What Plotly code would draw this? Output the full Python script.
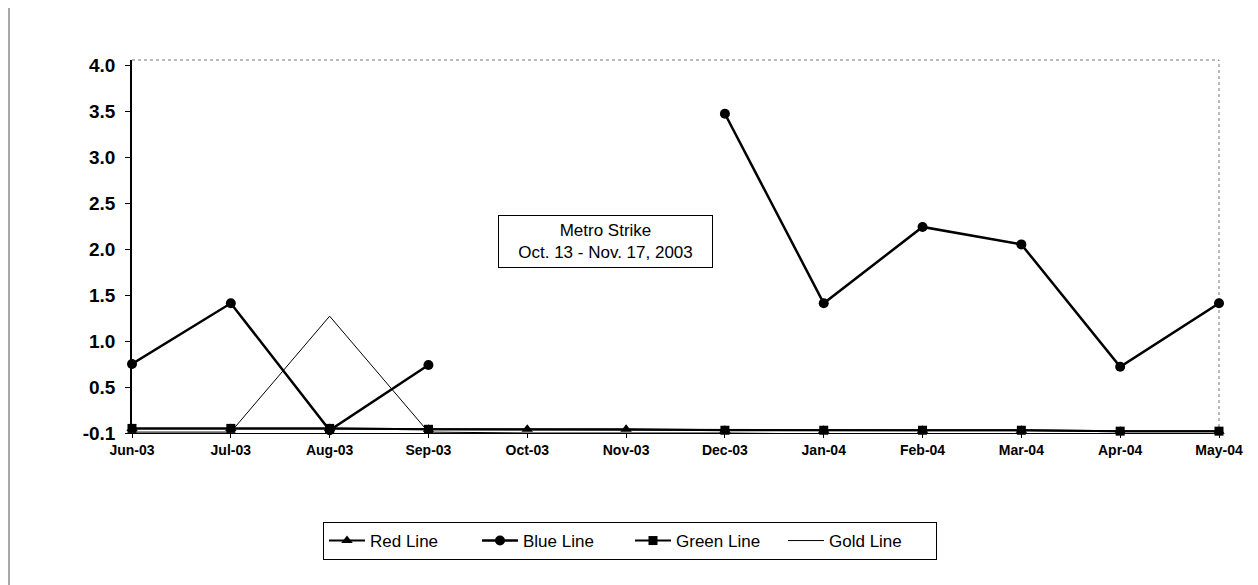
import plotly.graph_objects as go

months = ["Jun-03", "Jul-03", "Aug-03", "Sep-03", "Oct-03", "Nov-03",
          "Dec-03", "Jan-04", "Feb-04", "Mar-04", "Apr-04", "May-04"]
red_line = [0.05, 0.05, 0.05, 0.04, 0.04, 0.04, 0.03, 0.03, 0.03, 0.03, 0.02, 0.02]
blue_line = [0.75, 1.41, 0.03, 0.74, None, None, 3.47, 1.41, 2.24, 2.05, 0.72, 1.41]
green_line = [0.05, 0.05, 0.05, 0.04, None, None, 0.03, 0.03, 0.03, 0.03, 0.02, 0.02]
gold_line = [0.01, 0.01, 1.27, 0.01, 0.0, 0.0, 0.0, -0.01, -0.01, -0.01, -0.02, -0.02]

y_tickvals = [0, 0.5, 1.0, 1.5, 2.0, 2.5, 3.0, 3.5, 4.0]
y_ticktext = ["-0.1", "0.5", "1.0", "1.5", "2.0", "2.5", "3.0", "3.5", "4.0"]

FONT = "Arial, Liberation Sans, Helvetica, sans-serif"

fig = go.Figure()
fig.add_trace(go.Scatter(x=months, y=gold_line, name="Gold Line", mode="lines",
                         line=dict(color="black", width=1), cliponaxis=False,
                         showlegend=False))
fig.add_trace(go.Scatter(x=months, y=red_line, name="Red Line", mode="lines+markers",
                         line=dict(color="black", width=2),
                         marker=dict(symbol="triangle-up", size=10, color="black"),
                         cliponaxis=False))
fig.add_trace(go.Scatter(x=months, y=blue_line, name="Blue Line", mode="lines+markers",
                         line=dict(color="black", width=2.5),
                         marker=dict(symbol="circle", size=10, color="black"),
                         cliponaxis=False, connectgaps=False))
fig.add_trace(go.Scatter(x=months, y=green_line, name="Green Line", mode="lines+markers",
                         line=dict(color="black", width=2),
                         marker=dict(symbol="square", size=9, color="black"),
                         cliponaxis=False, connectgaps=True))
fig.add_trace(go.Scatter(x=[None], y=[None], name="Gold Line", mode="lines",
                         line=dict(color="black", width=1)))

# page body adds an 8px offset; coordinates below are in figure pixels
W, H = 1250, 577
L, R, T, B = 124, 1211, 52, 425
pw, ph = R - L, B - T

def px(x):
    return (x - L) / pw

def py(y):
    return (B - y) / ph

shapes = [
    dict(type="line", xref="paper", yref="paper", x0=px(1), x1=px(1), y0=py(577), y1=py(0),
         line=dict(color="#8a8a8a", width=1.5), layer="below"),
    dict(type="line", xref="paper", yref="paper", x0=px(1249), x1=px(1249), y0=py(577), y1=py(0),
         line=dict(color="#8a8a8a", width=1.5), layer="below"),
    dict(type="line", xref="paper", yref="paper", x0=0, x1=1, y0=1, y1=1,
         line=dict(color="#777777", width=1, dash="dot"), layer="below"),
    dict(type="line", xref="paper", yref="paper", x0=1, x1=1, y0=0, y1=1,
         line=dict(color="#777777", width=1, dash="dot"), layer="below"),
]

fig.update_layout(
    width=W, height=H,
    margin=dict(l=L, r=W - R, t=T, b=H - B, pad=0),
    paper_bgcolor="white", plot_bgcolor="white",
    font=dict(family=FONT, color="black"),
    showlegend=True,
    legend=dict(orientation="h", x=px(622), y=py(533), xanchor="center", yanchor="middle",
                bordercolor="black", borderwidth=1, font=dict(size=17, family=FONT),
                traceorder="normal", itemwidth=36, entrywidth=102, bgcolor="white"),
    shapes=shapes,
    annotations=[dict(text="Metro Strike<br>Oct. 13 - Nov. 17, 2003",
                      xref="paper", yref="paper", x=px(597), y=py(233),
                      xanchor="center", yanchor="middle", showarrow=False,
                      font=dict(size=17, family=FONT), bordercolor="black", borderwidth=1,
                      borderpad=4, width=205, height=43, bgcolor="white", align="center")],
)
fig.update_xaxes(type="category", range=[0, 11], showgrid=False, zeroline=False,
                 showline=True, linecolor="black", linewidth=1,
                 ticks="outside", ticklen=4, tickcolor="black",
                 tickfont=dict(size=14, family=FONT, weight="bold"))
fig.update_yaxes(range=[0, 4.0 + 5 / 92], showgrid=False, zeroline=False,
                 showline=True, linecolor="black", linewidth=1.5,
                 ticks="outside", ticklen=5, tickcolor="black", ticklabelstandoff=6,
                 tickvals=y_tickvals, ticktext=y_ticktext,
                 tickfont=dict(size=19, family=FONT, weight="bold"))

fig.write_html("out.html")
